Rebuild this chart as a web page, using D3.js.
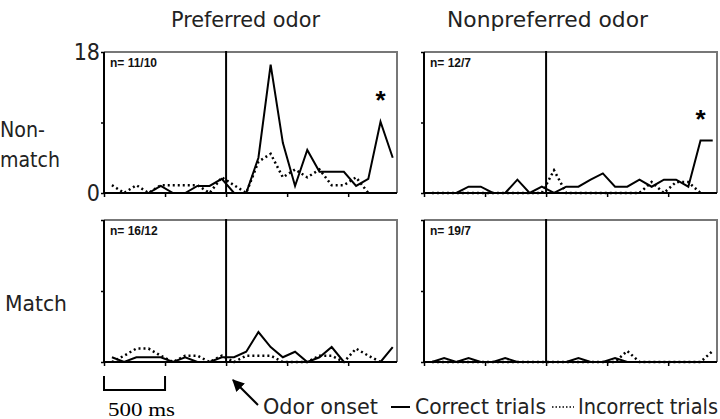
<!DOCTYPE html>
<html>
<head>
<meta charset="utf-8">
<script src="https://cdn.jsdelivr.net/npm/d3@7"></script>
<style>
  body { margin: 0; background: #fff; }
  .narrow { font-family: "Liberation Sans Narrow", "DejaVu Sans Condensed", "Liberation Sans", sans-serif; }
</style>
</head>
<body>
<script>
// bin centres, ms relative to odor onset
let times = [-935, -835, -735, -635, -535, -435, -335, -235, -135, -35,
    65, 165, 265, 365, 465, 565, 665, 765, 865, 965, 1065, 1165, 1265, 1365];

let columns = ["Preferred odor", "Nonpreferred  odor"];
let nLabels = ["n= 11/10", "n= 12/7", "n= 16/12", "n= 19/7"];
let yTickLabels = ["0", "18"];

// firing rate (Hz)
let prefNonmatchCorrect = [0, 0, 0, 0, 0.9, 0, 0, 0.9, 0.9, 1.8, 0, 0, 4.5, 16.4, 6.4, 0.9, 5.5, 2.7, 2.7, 2.7, 0.9, 1.8, 9.1, 4.5];
let prefNonmatchIncorrect = [1, 0, 1, 0, 1, 1, 1, 1, 0, 2, 1, 0, 4, 5, 2, 3, 2, 3, 1, 1, 2, 0];
let nonprefNonmatchCorrect = [0, 0, 0, 0.8, 0.8, 0, 0, 1.7, 0, 0.8, 0, 0.8, 0.8, 1.7, 2.5, 0.8, 0.8, 1.7, 0.8, 1.7, 1.7, 0.8, 6.7, 6.7];
let nonprefNonmatchIncorrect = [0, 0, 0, 0, 0, 0, 0, 0, 0, 0, 2.9, 0, 0, 0, 0, 0, 0, 0, 1.4, 0, 1.4, 1.4, 0];
let prefMatchCorrect = [0.6, 0, 0.6, 0.6, 0.6, 0, 0.6, 0, 0, 0.6, 0.6, 1.3, 3.8, 1.9, 0.6, 1.3, 0, 0.6, 1.9, 0, 0, 0, 0, 1.9];
let prefMatchIncorrect = [0, 0.8, 1.7, 1.7, 0.8, 0, 0.8, 0.8, 0, 0.8, 0, 0.8, 0.8, 0.8, 0, 0, 0, 0.8, 0.8, 0, 1.7, 0.8, 0];
let nonprefMatchCorrect = [0, 0.5, 0, 0.5, 0, 0, 0.5, 0, 0, 0, 0, 0, 0.5, 0, 0, 0.5, 0, 0, 0, 0, 0, 0, 0, 0];
let nonprefMatchIncorrect = [0, 0, 0, 0, 0, 0, 0, 0, 0, 0, 0, 0, 0, 0, 0, 0, 1.4, 0, 0, 0, 0, 0, 0, 1.4];

let panels = [
    {row: 0, col: 0, correct: prefNonmatchCorrect, incorrect: prefNonmatchIncorrect, n: nLabels[0], star: true},
    {row: 0, col: 1, correct: nonprefNonmatchCorrect, incorrect: nonprefNonmatchIncorrect, n: nLabels[1], star: true},
    {row: 1, col: 0, correct: prefMatchCorrect, incorrect: prefMatchIncorrect, n: nLabels[2], star: false},
    {row: 1, col: 1, correct: nonprefMatchCorrect, incorrect: nonprefMatchIncorrect, n: nLabels[3], star: false}
];

let colX = [[104, 397], [424, 717]];
let rowY = [[193, 52], [362, 220]];

let svg = d3.select("body").append("svg")
    .attr("width", 720)
    .attr("height", 419);

svg.append("rect").attr("width", 720).attr("height", 419).attr("fill", "#fff");

// text helper: narrow label squeezed to the width seen in the figure
let label = (x, y, s, w, size = 21) => svg.append("text")
    .attr("class", "narrow")
    .attr("x", x).attr("y", y)
    .attr("font-size", size)
    .attr("fill", "#222")
    .attr("textLength", w)
    .attr("lengthAdjust", "spacingAndGlyphs")
    .text(s);

label(171, 27, columns[0], 149);
label(447, 27, columns[1], 201);

panels.forEach(p => {
    let x = d3.scaleLinear().domain([-1000, 1400]).range(colX[p.col]);
    let y = d3.scaleLinear().domain([0, 18]).range(rowY[p.row]);
    let g = svg.append("g");

    // frame (top and right)
    g.append("path")
        .attr("d", `M${x(-1000)},${y(18)}H${x(1400)}V${y(0)}`)
        .attr("fill", "none")
        .attr("stroke", "#777")
        .attr("stroke-width", 2);

    g.append("g")
        .attr("transform", `translate(0,${y(0)})`)
        .call(d3.axisBottom(x).tickValues([-1000, -500, 0, 500, 1000]).tickSize(4).tickFormat(""))
        .call(g => g.select(".domain").attr("stroke-width", 2).attr("d", `M${x(-1000)},0H${x(1400)}`))
        .call(g => g.selectAll(".tick line").attr("stroke-width", 1.5));

    g.append("g")
        .attr("transform", `translate(${x(-1000)},0)`)
        .call(d3.axisLeft(y).tickValues([0, 9, 18]).tickSize(3).tickFormat(""))
        .call(g => g.select(".domain").attr("stroke-width", 2).attr("d", `M0,${y(0)}V${y(18)}`))
        .call(g => g.selectAll(".tick line").attr("stroke-width", 1.5));

    // odor onset
    g.append("line")
        .attr("x1", x(0)).attr("x2", x(0))
        .attr("y1", y(0)).attr("y2", y(18) - 1)
        .attr("stroke", "#000")
        .attr("stroke-width", 2);

    let line = d3.line()
        .x((d, i) => x(times[i]))
        .y(d => y(d));

    g.append("path")
        .datum(p.incorrect)
        .attr("fill", "none")
        .attr("stroke", "#000")
        .attr("stroke-width", 2.5)
        .attr("stroke-dasharray", "2,3")
        .attr("d", line);

    g.append("path")
        .datum(p.correct)
        .attr("fill", "none")
        .attr("stroke", "#000")
        .attr("stroke-width", 2)
        .attr("d", line);

    g.append("text")
        .attr("x", x(-1000) + 6)
        .attr("y", y(18) + 15)
        .style("font-family", "'Liberation Sans', Arial, sans-serif")
        .attr("font-size", 12)
        .attr("font-weight", "bold")
        .attr("fill", "#111")
        .text(p.n);

    if (p.star) {
        let last = p.correct.length - 2;
        g.append("text")
            .attr("x", x(times[last]))
            .attr("y", y(p.correct[last]) - 13)
            .attr("text-anchor", "middle")
            .style("font-family", "'Liberation Sans', Arial, sans-serif")
            .attr("font-size", 26)
            .attr("font-weight", "bold")
            .text("*");
    }

    if (p.row === 0 && p.col === 0) {
        g.selectAll(".ylab")
            .data(yTickLabels)
            .join("text")
            .attr("class", "narrow")
            .attr("x", x(-1000) - 4)
            .attr("y", (d, i) => y(+d) + 8)
            .attr("text-anchor", "end")
            .attr("font-size", 23)
            .attr("fill", "#222")
            .text(d => d);
    }
});

// row labels
label(0, 137, "Non-", 45);
label(0, 167, "match", 60);
label(5, 311, "Match", 62);

// scale bar (500 ms)
let xs = d3.scaleLinear().domain([-1000, 1400]).range(colX[0]);
svg.append("path")
    .attr("d", `M${xs(-1000)},376V390H${xs(-500)}V376`)
    .attr("fill", "none")
    .attr("stroke", "#000")
    .attr("stroke-width", 2);
svg.append("text")
    .attr("x", 108)
    .attr("y", 416)
    .style("font-family", "'Liberation Serif', 'DejaVu Serif', serif")
    .attr("font-size", 18)
    .attr("textLength", 67)
    .attr("lengthAdjust", "spacingAndGlyphs")
    .text("500 ms");

// arrow to odor onset
svg.append("defs").append("marker")
    .attr("id", "arr")
    .attr("viewBox", "0 0 10 10")
    .attr("refX", 9).attr("refY", 5)
    .attr("markerWidth", 6).attr("markerHeight", 6)
    .attr("orient", "auto")
    .append("path").attr("d", "M0,0L10,5L0,10Z");
svg.append("line")
    .attr("x1", 258).attr("y1", 405)
    .attr("x2", 233).attr("y2", 380)
    .attr("stroke", "#000")
    .attr("stroke-width", 2)
    .attr("marker-end", "url(#arr)");

// legend
label(263, 414, "Odor onset", 115);
svg.append("line").attr("x1", 391).attr("x2", 410).attr("y1", 407).attr("y2", 407)
    .attr("stroke", "#000").attr("stroke-width", 2);
label(415, 414, "Correct trials", 131);
svg.append("line").attr("x1", 552).attr("x2", 574).attr("y1", 407).attr("y2", 407)
    .attr("stroke", "#000").attr("stroke-width", 1.5).attr("stroke-dasharray", "1.5,2");
label(578, 414, "Incorrect trials", 140);
</script>
</body>
</html>
